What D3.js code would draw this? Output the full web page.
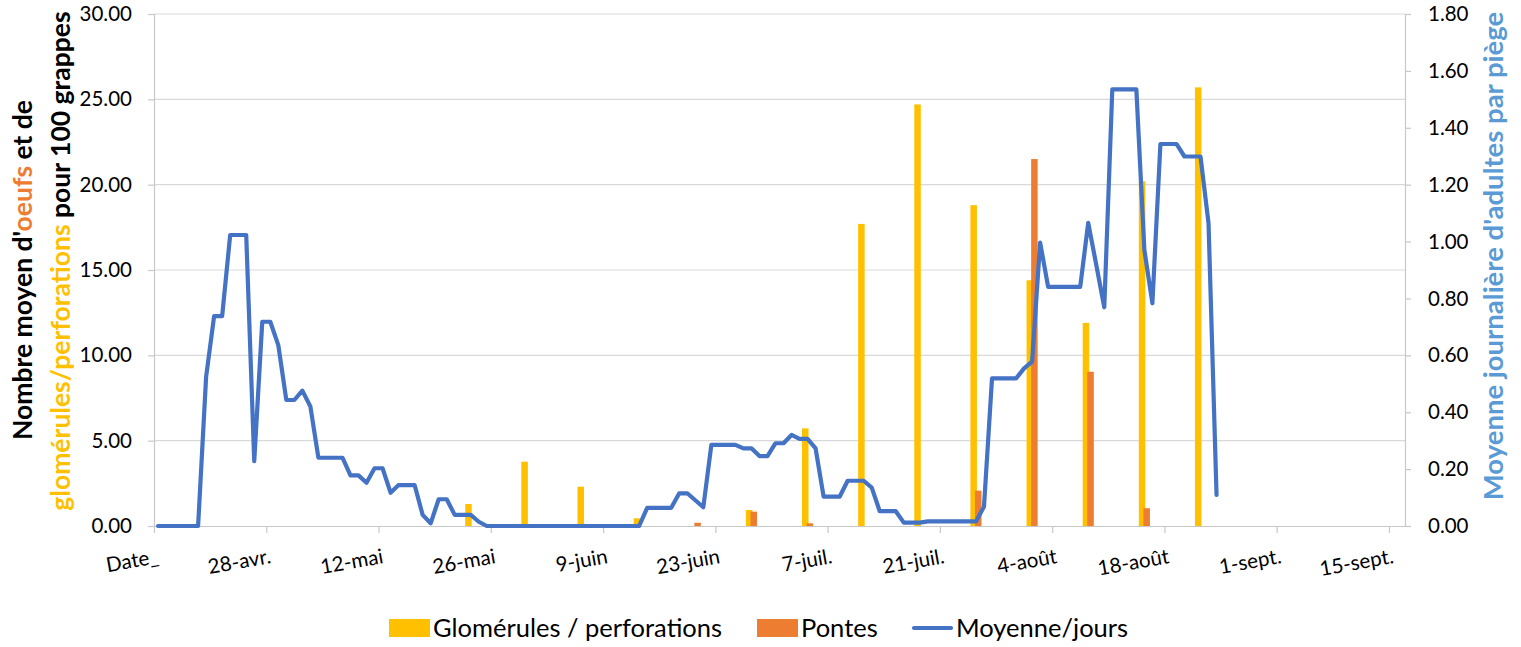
<!DOCTYPE html>
<html>
<head>
<meta charset="utf-8">
<script src="https://cdn.jsdelivr.net/npm/d3@7"></script>
<style>
  body { margin: 0; background: #fff; }
  svg { display: block; font-family: Lato, "Open Sans", sans-serif; }
</style>
</head>
<body>
<svg width="1521" height="647"></svg>
<script>
// Data

// weekly bar samples
const barDates = ["2021-05-23", "2021-05-30", "2021-06-06", "2021-06-13", "2021-06-20", "2021-06-27", "2021-07-04",
                  "2021-07-11", "2021-07-18", "2021-07-25", "2021-08-01", "2021-08-08", "2021-08-15", "2021-08-22"];
const glomerules = [1.29, 3.77, 2.30, 0.45, 0, 0.94, 5.72, 17.7, 24.7, 18.8, 14.4, 11.9, 20.2, 25.7];
const pontes = [0, 0, 0, 0, 0.19, 0.84, 0.16, 0, 0, 2.07, 21.5, 9.04, 1.04, 0];

// daily trap average (turning points of the line)
const lineDates = ["2021-04-14", "2021-04-19", "2021-04-20", "2021-04-21", "2021-04-22", "2021-04-23", "2021-04-25",
                   "2021-04-26", "2021-04-27", "2021-04-28", "2021-04-29", "2021-04-30", "2021-05-01", "2021-05-02",
                   "2021-05-03", "2021-05-04", "2021-05-07", "2021-05-08", "2021-05-09", "2021-05-10", "2021-05-11",
                   "2021-05-12", "2021-05-13", "2021-05-14", "2021-05-16", "2021-05-17", "2021-05-18", "2021-05-19",
                   "2021-05-20", "2021-05-21", "2021-05-23", "2021-05-24", "2021-05-25", "2021-06-13", "2021-06-14",
                   "2021-06-17", "2021-06-18", "2021-06-19", "2021-06-21", "2021-06-22", "2021-06-25", "2021-06-26",
                   "2021-06-27", "2021-06-28", "2021-06-29", "2021-06-30", "2021-07-01", "2021-07-02", "2021-07-03",
                   "2021-07-04", "2021-07-05", "2021-07-06", "2021-07-08", "2021-07-09", "2021-07-11", "2021-07-12",
                   "2021-07-13", "2021-07-15", "2021-07-16", "2021-07-18", "2021-07-19", "2021-07-25", "2021-07-26",
                   "2021-07-27", "2021-07-30", "2021-07-31", "2021-08-01", "2021-08-02", "2021-08-03", "2021-08-07",
                   "2021-08-08", "2021-08-09", "2021-08-10", "2021-08-11", "2021-08-14", "2021-08-15", "2021-08-16",
                   "2021-08-17", "2021-08-19", "2021-08-20", "2021-08-22", "2021-08-23", "2021-08-24"];
const moyenne = [0, 0, 0.525, 0.738, 0.738, 1.023, 1.023,
                 0.228, 0.718, 0.718, 0.636, 0.443, 0.443, 0.476,
                 0.42, 0.24, 0.24, 0.178, 0.178, 0.152, 0.203,
                 0.203, 0.117, 0.144, 0.144, 0.039, 0.0095, 0.094,
                 0.094, 0.039, 0.039, 0.015, 0, 0, 0.064,
                 0.064, 0.115, 0.115, 0.066, 0.285, 0.285, 0.273,
                 0.273, 0.246, 0.246, 0.291, 0.291, 0.32, 0.306,
                 0.306, 0.273, 0.103, 0.103, 0.159, 0.159, 0.135,
                 0.052, 0.052, 0.012, 0.012, 0.016, 0.016, 0.068,
                 0.519, 0.519, 0.554, 0.578, 0.996, 0.841, 0.841,
                 1.066, 0.918, 0.769, 1.535, 1.535, 0.97, 0.783,
                 1.343, 1.343, 1.299, 1.299, 1.064, 0.109];

// axis ticks
const xTickDates = ["2021-04-14", "2021-04-28", "2021-05-12", "2021-05-26", "2021-06-09", "2021-06-23",
                    "2021-07-07", "2021-07-21", "2021-08-04", "2021-08-18", "2021-09-01", "2021-09-15"];
const xTickLabels = ["Date_", "28-avr.", "12-mai", "26-mai", "9-juin", "23-juin",
                     "7-juil.", "21-juil.", "4-août", "18-août", "1-sept.", "15-sept."];
const leftTicks = [0, 5, 10, 15, 20, 25, 30];
const rightTicks = [0, 0.2, 0.4, 0.6, 0.8, 1.0, 1.2, 1.4, 1.6, 1.8];

// Colours

const yellow = "#FFC000", orange = "#ED7D31", blue = "#4472C4", lightBlue = "#5B9BD5";

// Layout

const plotLeft = 154, plotRight = 1405, plotTop = 14, plotBottom = 526;
const parse = d3.utcParse("%Y-%m-%d");
const halfDay = 12 * 3600 * 1000;

const svg = d3.select("svg");

const x = d3.scaleUtc()
    .domain([parse("2021-04-14"), parse("2021-09-17")])
    .range([plotLeft, plotRight]);
const xc = d => x(new Date(parse(d).getTime() + halfDay));

const yL = d3.scaleLinear().domain([0, 30]).range([plotBottom, plotTop]);
const yR = d3.scaleLinear().domain([0, 1.8]).range([plotBottom, plotTop]);

// gridlines
svg.append("g")
    .selectAll("line")
    .data(leftTicks.slice(1))
    .enter().append("line")
    .attr("x1", plotLeft).attr("x2", plotRight)
    .attr("y1", d => yL(d)).attr("y2", d => yL(d))
    .attr("stroke", "#D9D9D9").attr("stroke-width", 1.2);

// left axis
const axL = svg.append("g")
    .attr("transform", `translate(${plotLeft},0)`)
    .call(d3.axisLeft(yL).tickValues(leftTicks).tickFormat(d3.format(".2f")).tickSize(6).tickPadding(16));
// right axis
const axR = svg.append("g")
    .attr("transform", `translate(${plotRight},0)`)
    .call(d3.axisRight(yR).tickValues(rightTicks).tickFormat(d3.format(".2f")).tickSize(6).tickPadding(17));
// bottom axis
const axB = svg.append("g")
    .attr("transform", `translate(0,${plotBottom})`)
    .call(d3.axisBottom(x).tickValues(xTickDates.map(parse)).tickFormat((d, i) => xTickLabels[i]).tickSize(7));

[axL, axR, axB].forEach(g => {
    g.select(".domain").attr("stroke", "#C8C8C8").attr("stroke-width", 1.2);
    g.selectAll(".tick line").attr("stroke", "#C8C8C8").attr("stroke-width", 1.2);
    g.selectAll("text").attr("fill", "#000").style("font-size", "20.5px").style("font-family", "Lato");
});
axB.select(".domain").attr("d", `M${plotLeft},0.5H${plotRight}`);
axB.selectAll(".tick text")
    .attr("text-anchor", "end")
    .attr("y", 0).attr("dy", 0)
    .attr("transform", "translate(5,37) rotate(-10)");

// bars
const barW = 6.5, barOff = 2.3;
svg.append("g")
    .selectAll("rect")
    .data(barDates.map((d, i) => ({ d, v: glomerules[i] })).filter(o => o.v > 0))
    .enter().append("rect")
    .attr("x", o => xc(o.d) - barOff - barW / 2)
    .attr("width", barW)
    .attr("y", o => yL(o.v))
    .attr("height", o => yL(0) - yL(o.v))
    .attr("fill", yellow);
svg.append("g")
    .selectAll("rect")
    .data(barDates.map((d, i) => ({ d, v: pontes[i] })).filter(o => o.v > 0))
    .enter().append("rect")
    .attr("x", o => xc(o.d) + barOff - barW / 2)
    .attr("width", barW)
    .attr("y", o => yL(o.v))
    .attr("height", o => yL(0) - yL(o.v))
    .attr("fill", orange);

// line on secondary axis
const line = d3.line()
    .x((d, i) => xc(lineDates[i]))
    .y(d => yR(d));
svg.append("path")
    .datum(moyenne)
    .attr("d", line)
    .attr("fill", "none")
    .attr("stroke", blue)
    .attr("stroke-width", 4.2)
    .attr("stroke-linejoin", "round")
    .attr("stroke-linecap", "round");

// axis titles
const tl = svg.append("g").style("font-weight", "bold").style("font-size", "26.5px");
const t1 = tl.append("text")
    .attr("transform", "translate(32,270) rotate(-90)")
    .attr("text-anchor", "middle");
t1.append("tspan").text("Nombre moyen d'");
t1.append("tspan").attr("fill", orange).text("oeufs");
t1.append("tspan").text(" et de");
const t2 = tl.append("text")
    .attr("transform", "translate(70,261) rotate(-90)")
    .attr("text-anchor", "middle");
t2.append("tspan").attr("fill", yellow).text("glomérules/perforations");
t2.append("tspan").text(" pour 100 grappes");

svg.append("text")
    .attr("transform", "translate(1503,256) rotate(-90)")
    .attr("text-anchor", "middle")
    .style("font-weight", "bold").style("font-size", "27.5px")
    .attr("fill", lightBlue)
    .text("Moyenne journalière d'adultes par piège");

// legend
const legend = svg.append("g").style("font-size", "25.5px");
const items = [
    { label: "Glomérules / perforations", color: yellow, type: "rect", x: 389 },
    { label: "Pontes", color: orange, type: "rect", x: 757 },
    { label: "Moyenne/jours", color: blue, type: "line", x: 912 }
];
items.forEach(it => {
    const g = legend.append("g").attr("transform", `translate(${it.x},628)`);
    if (it.type === "rect") {
        g.append("rect").attr("x", 0).attr("y", -9).attr("width", 41).attr("height", 18).attr("fill", it.color);
    } else {
        g.append("line").attr("x1", 2).attr("x2", 39).attr("y1", 0).attr("y2", 0)
            .attr("stroke", it.color).attr("stroke-width", 4.2).attr("stroke-linecap", "round");
    }
    g.append("text").attr("x", 44).attr("y", 9).text(it.label);
});
</script>
</body>
</html>
